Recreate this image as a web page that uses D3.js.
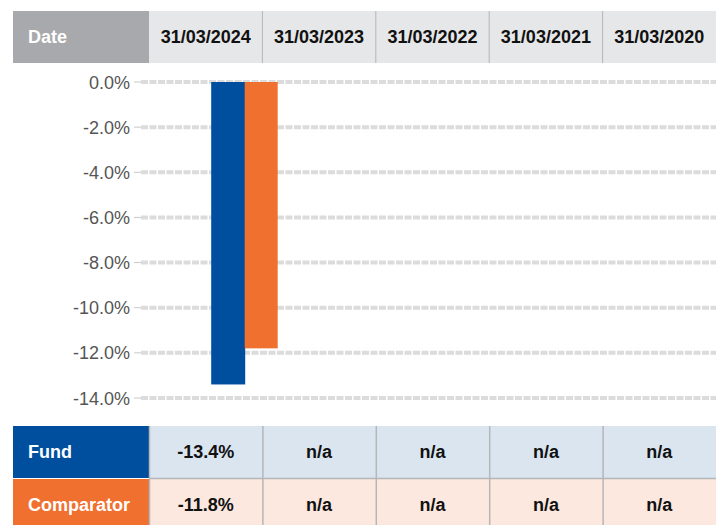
<!DOCTYPE html>
<html><head><meta charset="utf-8">
<script src="https://cdn.jsdelivr.net/npm/d3@7"></script>
<style>body{margin:0;background:#fff;}svg{display:block;font-family:"Liberation Sans",Arial,sans-serif;}</style>
</head><body>
<svg id="c" width="716" height="525"></svg>
<script>
const categories = ["31/03/2024","31/03/2023","31/03/2022","31/03/2021","31/03/2020"];
const fundValues = [-13.4, null, null, null, null];
const comparatorValues = [-11.8, null, null, null, null];
const fundLabels = ["-13.4%","n/a","n/a","n/a","n/a"];
const comparatorLabels = ["-11.8%","n/a","n/a","n/a","n/a"];
const yTicks = [0,-2,-4,-6,-8,-10,-12,-14];
const seriesNames = ["Fund","Comparator"];

const svg = d3.select("#c");
const colW = (716-149)/5;
const colX = d3.scaleBand().domain(categories).range([149,716]);

// header
svg.append("rect").attr("x",13).attr("y",11).attr("width",136).attr("height",52).attr("fill","#a7a9ac");
svg.append("text").attr("x",28).attr("y",43).attr("fill","#fff").attr("font-weight","bold").attr("font-size",18).text("Date");
svg.append("rect").attr("x",149).attr("y",11).attr("width",567).attr("height",52).attr("fill","#e6e7e8");
categories.forEach((c,i)=>{
  if(i>0) svg.append("line").attr("x1",colX(c)).attr("x2",colX(c)).attr("y1",11).attr("y2",63).attr("stroke","#b5b6b8").attr("stroke-width",1);
  svg.append("text").attr("x",colX(c)+colW/2).attr("y",43).attr("text-anchor","middle").attr("font-weight","bold").attr("font-size",18).attr("fill","#111").text(c);
});

// chart
const y = d3.scaleLinear().domain([0,-14]).range([82,398]);
const x = d3.scaleBand().domain(categories).range([188,188+colW*5]);
const grid = svg.append("g");
yTicks.forEach(t=>{
  grid.append("line").attr("x1",134).attr("x2",141).attr("y1",y(t)).attr("y2",y(t)).attr("stroke","#c8c8c8").attr("stroke-width",1);
  grid.append("line").attr("x1",141).attr("x2",716).attr("y1",y(t)).attr("y2",y(t)).attr("stroke","#dcdcdc").attr("stroke-width",4).attr("stroke-dasharray","7,1.5");
  grid.append("text").attr("x",130).attr("y",y(t)+6.5).attr("text-anchor","end").attr("font-size",18).attr("fill","#555").text(t.toFixed(1)+"%");
});
const bw = 33;
const bars = svg.append("g");
categories.forEach((c,i)=>{
  const cx = x(c)+x.bandwidth()/2;
  if(fundValues[i]!=null) bars.append("rect").attr("x",cx-bw-0.5).attr("y",y(0)).attr("width",bw+1).attr("height",y(fundValues[i])-y(0)).attr("fill","#004f9f");
  if(comparatorValues[i]!=null) bars.append("rect").attr("x",cx).attr("y",y(0)).attr("width",bw).attr("height",y(comparatorValues[i])-y(0)).attr("fill","#f07030");
});

// table
const rows = [
  {name:seriesNames[0], labels:fundLabels, head:"#004f9f", bg:"#dae5f0", y:426, h:52},
  {name:seriesNames[1], labels:comparatorLabels, head:"#f07030", bg:"#fce8df", y:479, h:52}
];
rows.forEach(r=>{
  svg.append("rect").attr("x",13).attr("y",r.y).attr("width",136).attr("height",r.h).attr("fill",r.head);
  svg.append("text").attr("x",28).attr("y",r.y+32).attr("fill","#fff").attr("font-weight","bold").attr("font-size",18).text(r.name);
  svg.append("rect").attr("x",149).attr("y",r.y).attr("width",567).attr("height",r.h).attr("fill",r.bg);
  categories.forEach((c,i)=>{
    svg.append("line").attr("x1",colX(c)+0.5).attr("x2",colX(c)+0.5).attr("y1",r.y).attr("y2",r.y+r.h).attr("stroke","#b5b6b8").attr("stroke-width",1.5);
    svg.append("text").attr("x",colX(c)+colW/2).attr("y",r.y+32).attr("text-anchor","middle").attr("font-weight","bold").attr("font-size",18).attr("fill","#111").text(r.labels[i]);
  });
});
svg.append("line").attr("x1",149).attr("x2",716).attr("y1",478.5).attr("y2",478.5).attr("stroke","#b5b6b8").attr("stroke-width",1.5);
</script>
</body></html>
